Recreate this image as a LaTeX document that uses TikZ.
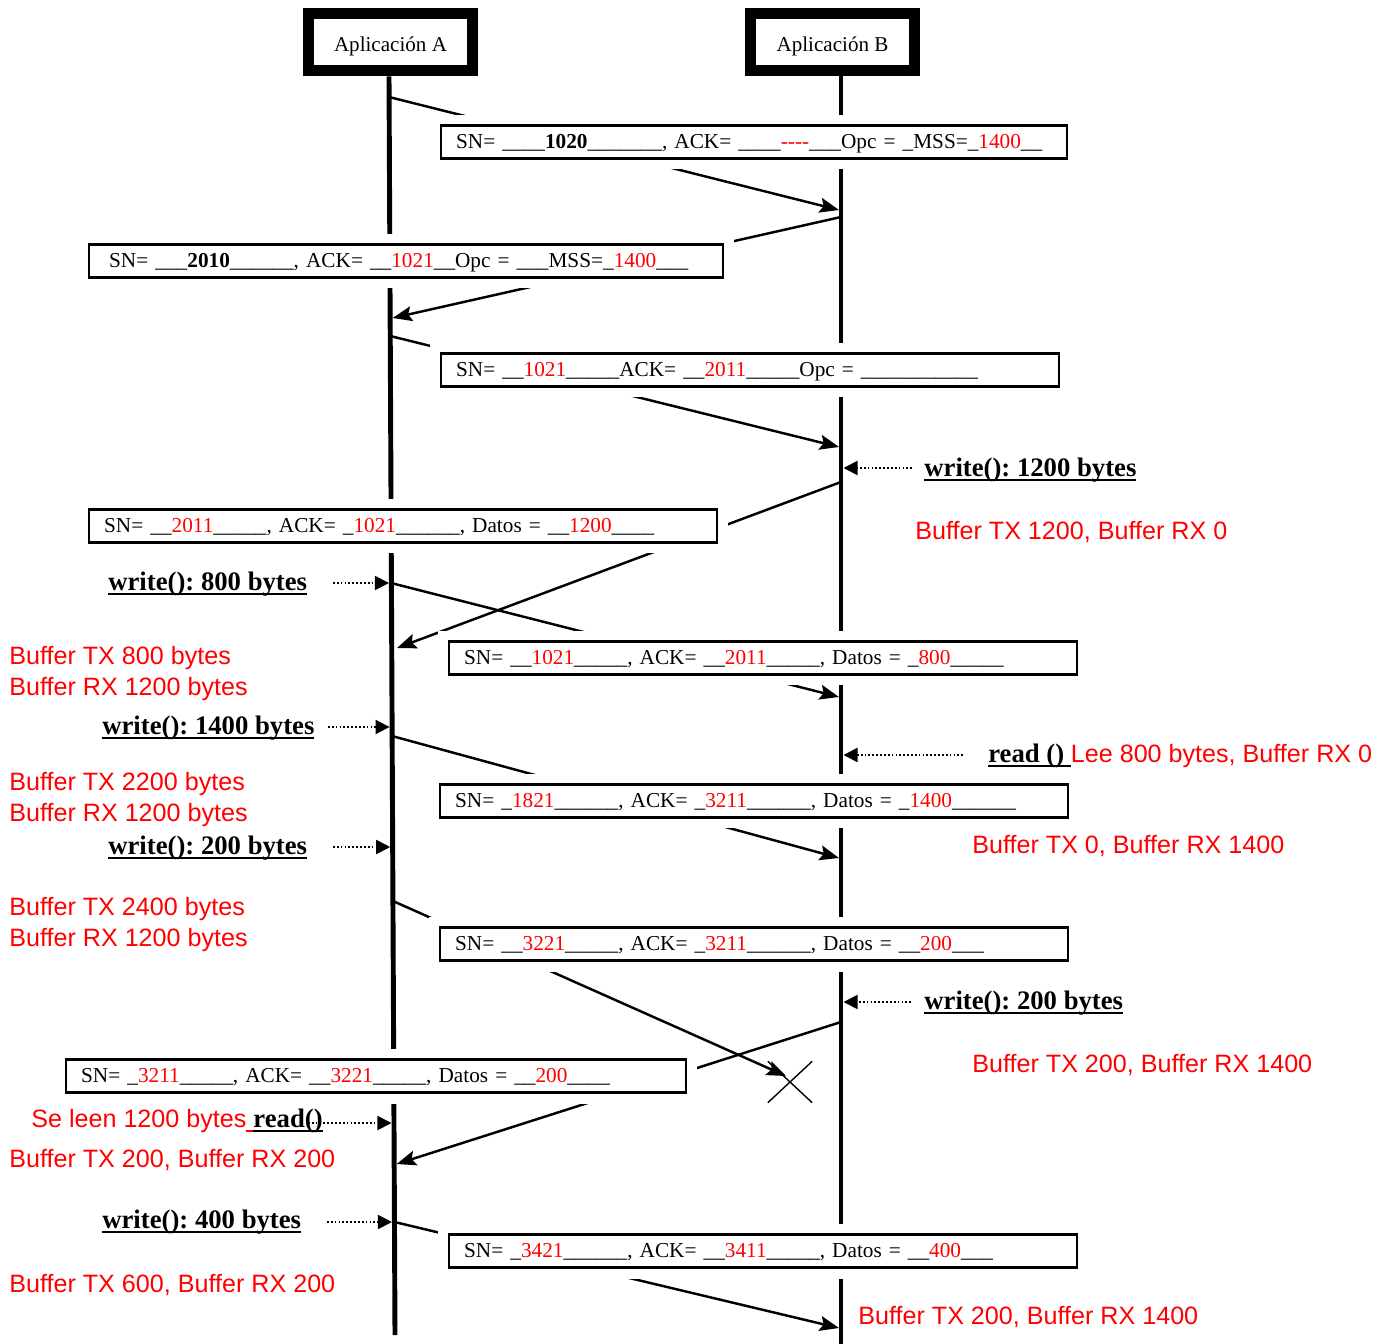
\documentclass[tikz,border=0pt]{standalone}
\usepackage{fontspec}
\setmainfont{Liberation Serif}
\newfontfamily\arialf{Liberation Sans}
\usetikzlibrary{arrows.meta,positioning,shapes.misc}
\definecolor{msgred}{RGB}{255,0,0}
\newcommand{\rtx}[1]{\textcolor{msgred}{#1}}
\newcommand{\ulin}[1]{\setbox0\hbox{#1}\rlap{\rule[-2.4pt]{\wd0}{1.2pt}}\box0}
\frenchspacing

\begin{document}
\begin{tikzpicture}[x=0.02cm, y=-0.02cm,
    lifeline/.style={line width=2.8pt},
    header/.style={draw, line width=0.22cm, fill=white, minimum width=3.28cm,
                   minimum height=1.14cm, inner sep=0pt, text height=1.2em, text depth=0.22em,
                   font=\fontsize{12}{14}\selectfont},
    msgbox/.style={draw, line width=1.3pt, fill=white, preaction={draw=white, line width=0.44cm},
                   anchor=west, inner xsep=0.3cm, inner ysep=0pt, minimum height=0.66cm,
                   text height=0.85em, text depth=0.1em,
                   text width=#1, align=left, font=\fontsize{12.1}{14}\selectfont},
    msgbox/.default=11.96cm,
    msg/.style={-{Stealth[length=11pt,width=8.5pt,inset=2pt]}, line width=1.4pt},
    note/.style={-{Triangle[length=8pt,width=8pt]}, line width=1pt, dash pattern=on 1pt off 1.2pt},
    call/.style={anchor=west, inner sep=0pt, yshift=-1.2pt, font=\fontsize{15.2}{18}\selectfont\bfseries},
    buf/.style={anchor=west, inner sep=0pt, yshift=-1.2pt, align=left, text=msgred,
                font=\arialf\fontsize{14.3}{17.6}\selectfont}
]
\useasboundingbox (0,0) rectangle (1382,1344);

% lifelines
\node[header] (appA) at (390.5,42.5) {Aplicación A};
\node[header] (appB) at (832.5,42.5) {Aplicación B};
\coordinate (endA) at (395,1335);
\coordinate (endB) at (841,1344);
\draw[lifeline] (appA.south) ++(-1.5,0) coordinate (topA) -- (endA);
\draw[lifeline] (841,76) coordinate (topB) -- (endB);

% points on the lifelines
\coordinate (a1) at (389,97);
\coordinate (a2) at (392.7,318);
\coordinate (a3) at (390.2,336);
\coordinate (a4) at (397,648);
\coordinate (a5) at (391,583);
\coordinate (a6) at (392,736);
\coordinate (a7) at (392.9,901);
\coordinate (a8) at (396.7,1164);
\coordinate (a9) at (394.5,1222);
\coordinate (b1) at (839,210);
\coordinate (b2) at (841,217);
\coordinate (b3) at (839,447);
\coordinate (b4) at (841,482);
\coordinate (b5) at (839,697);
\coordinate (b6) at (839,858);
\coordinate (b8) at (841,1022);
\coordinate (b9) at (839,1328);
\node[draw, cross out, line width=0.8pt, minimum width=0.86cm, minimum height=0.8cm] (lost) at (790,1082) {};
\coordinate (x7) at (786,1076);

% segments
\draw[msg] (a1) -- (b1);
\draw[msg] (b2) -- (a2);
\draw[msg] (a3) -- (b3);
\draw[msg] (b4) -- (a4);
\draw[msg] (a5) -- (b5);
\draw[msg] (a6) -- (b6);
\draw[msg] (a7) -- (x7);
\draw[msg] (b8) -- (a8);
\draw[msg] (a9) -- (b9);

\node[msgbox=11.92cm] (m1) at (440,142) {SN= \_\_\_\_\textbf{1020}\_\_\_\_\_\_\_, ACK= \_\_\_\_\rtx{-{}-{}-{}-}\_\_\_Opc = \_MSS=\_\rtx{1400}\_\_};
\node[msgbox=12.08cm] (m2) at (88,261) {\hspace{0.1cm}SN= \_\_\_\textbf{2010}\_\_\_\_\_\_, ACK= \_\_\rtx{1021}\_\_Opc = \_\_\_MSS=\_\rtx{1400}\_\_\_};
\node[msgbox=11.76cm] (m3) at (440,370) {SN= \_\_\rtx{1021}\_\_\_\_\_ACK= \_\_\rtx{2011}\_\_\_\_\_Opc = \_\_\_\_\_\_\_\_\_\_\_};
\node[msgbox] (m4) at (88,526) {SN= \_\_\rtx{2011}\_\_\_\_\_, ACK= \_\rtx{1021}\_\_\_\_\_\_, Datos = \_\_\rtx{1200}\_\_\_\_};
\node[msgbox] (m5) at (448,658) {SN= \_\_\rtx{1021}\_\_\_\_\_, ACK= \_\_\rtx{2011}\_\_\_\_\_, Datos = \_\rtx{800}\_\_\_\_\_};
\node[msgbox] (m6) at (439,801) {SN= \_\rtx{1821}\_\_\_\_\_\_, ACK= \_\rtx{3211}\_\_\_\_\_\_, Datos = \_\rtx{1400}\_\_\_\_\_\_};
\node[msgbox] (m7) at (439,944) {SN= \_\_\rtx{3221}\_\_\_\_\_, ACK= \_\rtx{3211}\_\_\_\_\_\_, Datos = \_\_\rtx{200}\_\_\_};
\node[msgbox=11.8cm] (m8) at (65,1076) {SN= \_\rtx{3211}\_\_\_\_\_, ACK= \_\_\rtx{3221}\_\_\_\_\_, Datos = \_\_\rtx{200}\_\_\_\_};
\node[msgbox] (m9) at (448,1251) {SN= \_\rtx{3421}\_\_\_\_\_\_, ACK= \_\_\rtx{3411}\_\_\_\_\_, Datos = \_\_\rtx{400}\_\_\_};

% calls and buffers, side B
\node[call] (wrB1) at (924,468) {\ulin{write(): 1200 bytes}};
\node[buf] (bfB1) at (915,530) {Buffer TX 1200, Buffer RX 0};
\node[call] (rdB) at (988,754) {\ulin{read ()\ }{\mdseries\arialf\fontsize{14.3}{17}\selectfont\rtx{Lee 800 bytes, Buffer RX 0}}};
\node[buf] (bfB2) at (972,844) {Buffer TX 0, Buffer RX 1400};
\node[call] (wrB2) at (924,1001) {\ulin{write(): 200 bytes}};
\node[buf] (bfB3) at (972,1063) {Buffer TX 200, Buffer RX 1400};
\node[buf] (bfB4) at (858,1315) {Buffer TX 200, Buffer RX 1400};

% calls and buffers, side A
\node[call] (wrA1) at (108,582) {\ulin{write(): 800 bytes}};
\node[buf] (bfA1) at (9,671.5) {Buffer TX 800 bytes\\Buffer RX 1200 bytes};
\node[call] (wrA2) at (102,726) {\ulin{write(): 1400 bytes}};
\node[buf] (bfA2) at (9,797) {Buffer TX 2200 bytes\\Buffer RX 1200 bytes};
\node[call] (wrA3) at (108,846) {\ulin{write(): 200 bytes}};
\node[buf] (bfA3) at (9,922.5) {Buffer TX 2400 bytes\\Buffer RX 1200 bytes};
\node[buf] (rdA) at (31,1119) {Se leen 1200 bytes\ulin{\ }\textcolor{black}{\rmfamily\bfseries\fontsize{15.2}{18}\selectfont\ulin{read()}}};
\node[buf] (bfA4) at (9,1158) {Buffer TX 200, Buffer RX 200};
\node[call] (wrA4) at (102,1220) {\ulin{write(): 400 bytes}};
\node[buf] (bfA5) at (9,1283) {Buffer TX 600, Buffer RX 200};

% dotted hooks
\coordinate (nB1) at (912,468);
\coordinate (nB2) at (963,755);
\coordinate (nB3) at (911,1002);
\coordinate (nA1) at (333,583);
\coordinate (nA2) at (328,727);
\coordinate (nA3) at (333,847);
\coordinate (nA4) at (308,1123);
\coordinate (nA5) at (327,1222);
\draw[note] (nB1) -- (843.5,468);
\draw[note] (nB2) -- (843.5,755);
\draw[note] (nB3) -- (843.5,1002);
\draw[note] (nA1) -- (389,583);
\draw[note] (nA2) -- (389.6,727);
\draw[note] (nA3) -- (390.2,847);
\draw[note] (nA4) -- (391.5,1123);
\draw[note] (nA5) -- (392,1222);

\end{tikzpicture}
\end{document}
